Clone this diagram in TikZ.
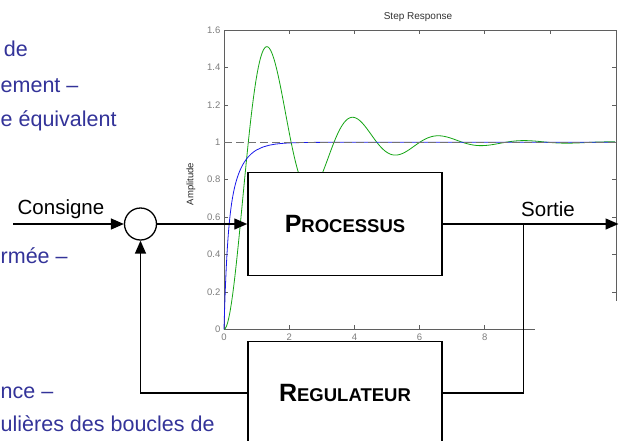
\documentclass[tikz,border=0pt]{standalone}
\usepackage{fontspec}
\setmainfont{Liberation Sans}
\usetikzlibrary{arrows.meta}
\definecolor{slideblue}{RGB}{51,51,153}
\definecolor{axisgray}{RGB}{95,95,95}
\definecolor{ticklab}{RGB}{125,125,125}
\definecolor{stepgreen}{RGB}{20,165,20}
\definecolor{stepblue}{RGB}{25,25,235}
\definecolor{refgray}{RGB}{115,115,115}
\begin{document}
\begin{tikzpicture}[x=1pt,y=-1pt,
  conn/.style={line width=1.4pt},
  arr/.style={conn,-{Triangle[length=13pt,width=11pt]}},
  blockbox/.style={draw,line width=1.5pt,fill=white,minimum width=194pt,minimum height=102.6pt,inner sep=0pt},
  sumcirc/.style={circle,draw,line width=1.3pt,fill=white,minimum size=32pt,inner sep=0pt},
  lbl/.style={font=\fontsize{20.5}{20.5}\selectfont,inner sep=0pt,anchor=base},
  slidetext/.style={text=slideblue,font=\fontsize{21.5}{21.5}\selectfont,inner sep=0pt,anchor=base west},
  ylab/.style={text=ticklab,font=\fontsize{9.5}{9.5}\selectfont,inner sep=0pt,anchor=east},
  xlab/.style={text=ticklab,font=\fontsize{9.5}{9.5}\selectfont,inner sep=0pt,anchor=north},
  axisline/.style={axisgray,line width=0.9pt},
  tickline/.style={axisgray,line width=0.7pt}
]
\clip (0,0) rectangle (625,440);
\fill[white] (0,0) rectangle (625,440);

% ---- left slide text (cut off in the source slide) ----
\node[slidetext,anchor=base east] (t1) at (28,56) {de};
\node[slidetext] (t2) at (0.5,92.5) {ement –};
\node[slidetext] (t3) at (0.5,126) {e équivalent};
\node[slidetext] (t4) at (0.5,263) {rmée –};
\node[slidetext] (t5) at (0.5,398) {nce –};
\node[slidetext] (t6) at (0.5,431.7) {ulières des boucles de};

% ---- step response plot ----
\node[font=\fontsize{10}{10}\selectfont,text=black!80,inner sep=0pt] (title) at (418,17) {Step Response};
\node[font=\fontsize{9.5}{9.5}\selectfont,text=black!85,rotate=90,inner sep=0pt] (ylabel) at (191,184) {Amplitude};

\draw[axisline] (224,30) -- (616,30);
\draw[axisline] (224,30) -- (224,329.3);
\draw[axisline] (616,30) -- (616,301);
\draw[axisline] (224,329.3) -- (535,329.3);

\foreach \v/\t in {0/0,0.2/0.2,0.4/0.4,0.6/0.6,0.8/0.8,1/1,1.2/1.2,1.4/1.4,1.6/1.6}{
  \node[ylab] (yl\t) at (220.5,{329.3-187*\v}) {\t};
}
\foreach \v in {0.2,0.4,0.6,0.8,1,1.2,1.4}{
  \draw[tickline] (224,{329.3-187*\v}) -- ++(4,0);
  \draw[tickline] (616,{329.3-187*\v}) -- ++(-4,0);
}
\foreach \t in {0,2,4,6,8}{
  \node[xlab] (xl\t) at ({224+32.6*\t},334) {\t};
}
\foreach \t in {2,4,6,8}{
  \draw[tickline] ({224+32.6*\t},329.3) -- ++(0,-4);
}
\foreach \t in {2,4,6,8,10}{
  \draw[tickline] ({224+32.6*\t},30) -- ++(0,4);
}

% green (underdamped) response
\draw[stepgreen,line width=0.8pt] plot[domain=0:12,samples=320]
  ({224+32.6*\x},{329.3-187*(1-exp(-0.51*\x)*(cos(deg(2.39*\x))+0.2134*sin(deg(2.39*\x))))});
% blue (fast) response
\draw[stepblue,line width=0.8pt] plot[domain=0:1,samples=120]
  ({224+32.6*\x},{329.3-187*(1-0.5*exp(-\x/0.1)-0.5*exp(-\x/0.4))})
  -- plot[domain=1:12,samples=60]
  ({224+32.6*\x},{329.3-187*(1-0.5*exp(-\x/0.1)-0.5*exp(-\x/0.4))});
% reference level
\draw[refgray,line width=1.1pt,dash pattern=on 8pt off 4pt] (224,142.3) -- (616,142.3);

% ---- block diagram ----
\node[sumcirc] (sum) at (140.5,224) {};
\node[blockbox] (proc) at (345,224) {\bfseries\fontsize{25}{25}\selectfont P\fontsize{18.5}{18.5}\selectfont ROCESSUS};
\node[blockbox] (reg) at (345,393) {\bfseries\fontsize{25}{25}\selectfont R\fontsize{18.5}{18.5}\selectfont EGULATEUR};

\coordinate (in) at (13,224);
\coordinate (out) at (618.5,224);
\coordinate (br) at (523.3,224);
\coordinate (brd) at (523.3,393);
\coordinate (fb) at (140.5,393);

\node[lbl] (consigne) at (61,214) {Consigne};
\node[lbl] (sortie) at (548,216.7) {Sortie};

\draw[arr] (in) -- (sum);
\draw[arr] (sum) -- (proc);
\draw[arr] (proc) -- (out);
\draw[conn] (br) -- (brd) -- (reg);
\draw[arr] (reg) -- (fb) -- (sum);
\end{tikzpicture}
\end{document}
